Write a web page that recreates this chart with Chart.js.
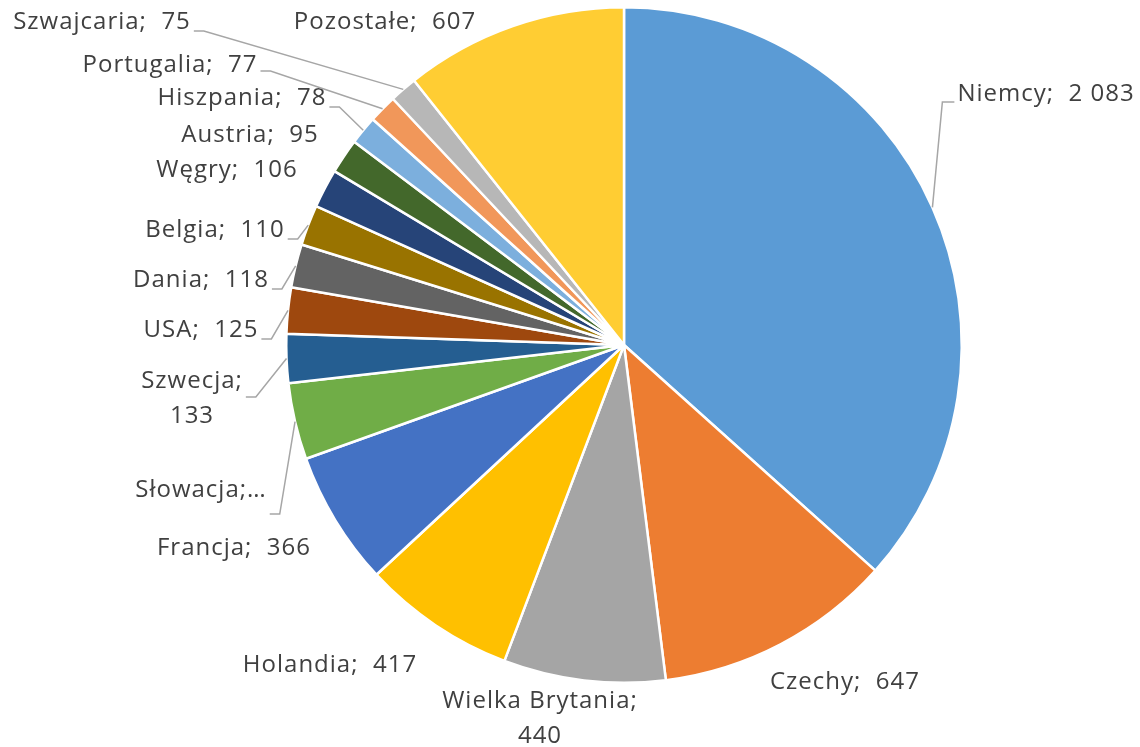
<!DOCTYPE html>
<html>
<head>
<meta charset="utf-8">
<script src="https://cdn.jsdelivr.net/npm/chart.js@4.4.1/dist/chart.umd.min.js"></script>
<style>
  html, body { margin: 0; padding: 0; background: #fff; }
  #wrap { width: 1140px; height: 747px; position: relative; }
</style>
</head>
<body>
<div id="wrap"><canvas id="chart"></canvas></div>
<script>
const countries = [
  "Niemcy", "Czechy", "Wielka Brytania", "Holandia", "Francja", "Słowacja",
  "Szwecja", "USA", "Dania", "Belgia", "Węgry", "Austria", "Hiszpania",
  "Portugalia", "Szwajcaria", "Pozostałe"
];
const values = [2083, 647, 440, 417, 366, 208, 133, 125, 118, 110, 106, 95, 78, 77, 75, 607];

const colours = [
  "#5B9BD5", "#ED7D31", "#A5A5A5", "#FFC000", "#4472C4", "#70AD47",
  "#255E91", "#9E480E", "#636363", "#997300", "#264478", "#43682B",
  "#7CAFDD", "#F1975A", "#B7B7B7", "#FFCD33"
];

// label text centre relative to the pie centre (px)
const labelPos = [
  [422, -251], [221, 337], [-84, 374], [-294, 320], [-390, 203], [-423, 145],
  [-432, 54], [-423, -15], [-423, -65], [-409, -115], [-397, -175], [-374, -210],
  [-382, -247], [-454, -280], [-522, -323], [-239, -323]
];
// how the label text is laid out: one line, wrapped after ";", or cut off
const labelMode = [
  "line", "line", "wrap", "line", "line", "clip", "wrap", "line", "line", "line",
  "line", "line", "line", "line", "line", "line"
];
// vertical offset of the leader line from the label centre, null = no leader
const leaderDy = [8, null, null, null, null, 24, -2, 9, 9, 9, null, null, 9, 6, 9, null];

function fmt(v) {
  return String(v).replace(/\B(?=(\d{3})+(?!\d))/g, " ");
}

function labelLines(i) {
  const name = countries[i];
  const val = fmt(values[i]);
  if (labelMode[i] === "wrap") return [name + ";", val];
  if (labelMode[i] === "clip") return [name + ";…"];
  return [name + ";  " + val];
}

const pieLabels = {
  id: "pieLabels",
  afterDatasetsDraw(chart) {
    const ctx = chart.ctx;
    const meta = chart.getDatasetMeta(0);
    ctx.save();
    ctx.font = "24px 'Open Sans'";
    ctx.letterSpacing = "1px";
    ctx.textAlign = "center";
    ctx.textBaseline = "middle";
    meta.data.forEach((arc, i) => {
      const { x, y, startAngle, endAngle, outerRadius } =
        arc.getProps(["x", "y", "startAngle", "endAngle", "outerRadius"], true);
      const cx = x + labelPos[i][0];
      const cy = y + labelPos[i][1];
      const lines = labelLines(i);
      const lh = 35;
      let w = 0;
      lines.forEach((t, k) => {
        w = Math.max(w, ctx.measureText(t).width);
        ctx.fillStyle = "#404040";
        ctx.fillText(t, cx, cy + (k - (lines.length - 1) / 2) * lh);
      });

      if (leaderDy[i] !== null) {
        const mid = (startAngle + endAngle) / 2;
        const px = x + Math.cos(mid) * outerRadius;
        const py = y + Math.sin(mid) * outerRadius;
        const ly = cy + leaderDy[i];
        const left = labelPos[i][0] < 0;
        const edge = left ? cx + w / 2 + 3 : cx - w / 2 - 3;
        const elbow = left ? edge + 10 : edge - 12;
        ctx.strokeStyle = "#A6A6A6";
        ctx.lineWidth = 1.5;
        ctx.beginPath();
        ctx.moveTo(edge, ly);
        ctx.lineTo(elbow, ly);
        ctx.lineTo(px, py);
        ctx.stroke();
      }
    });
    ctx.restore();
  }
};

new Chart(document.getElementById("chart"), {
  type: "pie",
  data: {
    labels: countries,
    datasets: [{
      data: values,
      backgroundColor: colours,
      borderColor: "#FFFFFF",
      borderWidth: 2.5
    }]
  },
  options: {
    responsive: true,
    maintainAspectRatio: false,
    animation: false,
    layout: { padding: { left: 285, right: 177, top: 6, bottom: 63 } },
    plugins: {
      legend: { display: false },
      tooltip: { enabled: false }
    }
  },
  plugins: [pieLabels]
});
</script>
</body>
</html>
